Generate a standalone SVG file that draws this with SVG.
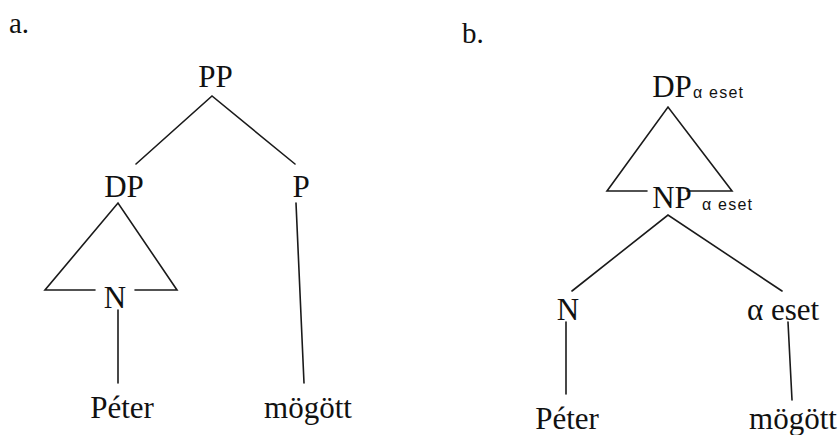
<svg xmlns="http://www.w3.org/2000/svg" width="839" height="435" viewBox="0 0 839 435">
<style>
.t{font-family:"Liberation Serif","Times New Roman",serif;font-size:31px;fill:#111;text-anchor:middle}
.l{font-family:"Liberation Serif","Times New Roman",serif;font-size:29px;fill:#111}
.s{font-family:"Liberation Sans",Arial,sans-serif;font-size:16px;fill:#111}
.e{stroke:#1a1a1a;stroke-width:1.6;fill:none;stroke-linecap:round}
</style>
<rect width="839" height="435" fill="#fff"/>
<text class="l" x="9" y="33">a.</text>
<text class="l" x="462" y="43">b.</text>
<g id="connectors">
<path class="e" d="M136,164 L212,96 L295,164"/>
<path class="e" d="M95,290 L45,290 L118,203 L177,290 L135,290"/>
<path class="e" d="M118,310 L118,383"/>
<path class="e" d="M296,203 L304,383"/>
<path class="e" d="M647,191 L607,191 L668,107 L732,191 L687,191"/>
<path class="e" d="M572,291 L668,215 L782,291"/>
<path class="e" d="M566,322 L566,394"/>
<path class="e" d="M788,322 L792,400"/>
</g>
<g id="a-PP"><text class="t" x="215.5" y="87">PP</text></g>
<g id="a-DP"><text class="t" x="124" y="197">DP</text></g>
<g id="a-P"><text class="t" x="301" y="197">P</text></g>
<g id="a-N"><text class="t" x="115" y="308">N</text></g>
<g id="a-Peter"><text class="t" x="122" y="418">Péter</text></g>
<g id="a-mogott"><text class="t" x="308" y="418">mögött</text></g>
<g id="b-DP"><text class="t" x="672" y="97">DP</text><text class="s" x="693" y="98" textLength="50">α eset</text></g>
<g id="b-NP"><text class="t" x="672" y="208">NP</text><text class="s" x="702" y="210" textLength="50">α eset</text></g>
<g id="b-N"><text class="t" x="568" y="320">N</text></g>
<g id="b-aeset"><text class="t" x="783" y="320">α eset</text></g>
<g id="b-Peter"><text class="t" x="567" y="429">Péter</text></g>
<g id="b-mogott"><text class="t" x="793" y="429">mögött</text></g>
</svg>
